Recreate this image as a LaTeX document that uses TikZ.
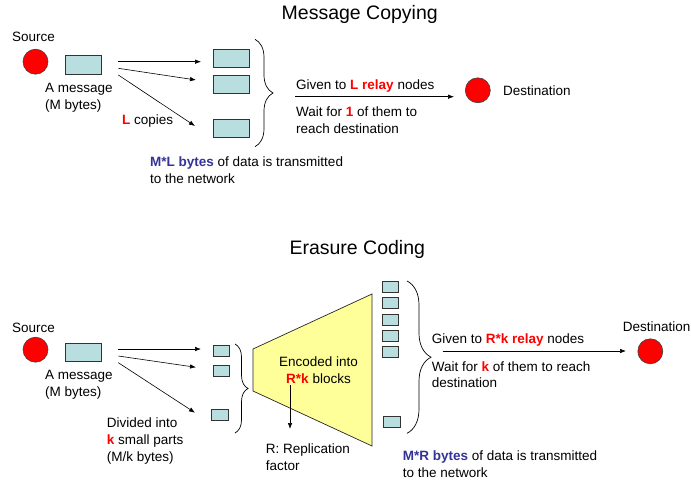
\documentclass[tikz,border=0pt]{standalone}
\usepackage{fontspec}
\setmainfont{Liberation Sans}
\usetikzlibrary{arrows.meta,decorations.pathreplacing}
\definecolor{boxc}{RGB}{184,222,224}
\definecolor{trapc}{RGB}{255,255,153}
\definecolor{bluet}{RGB}{51,51,153}
\newcommand{\rb}[1]{{\color{red}\bfseries #1}}
\newcommand{\bb}[1]{{\color{bluet}\bfseries #1}}
\begin{document}
\begin{tikzpicture}[x=1pt,y=-1pt,
  txt/.style={inner sep=0pt,align=left,font=\fontsize{13.5}{17}\selectfont},
  ttl/.style={inner sep=0pt,font=\fontsize{19.5}{22}\selectfont},
  dot/.style={circle,draw=black!75,line width=0.6pt,fill=red,minimum size=25pt,inner sep=0pt},
  bigbox/.style={draw=black!80,line width=0.7pt,fill=boxc,minimum width=36pt,minimum height=18.5pt,inner sep=0pt},
  smallbox/.style={draw=black!80,line width=0.7pt,fill=boxc,minimum width=16pt,minimum height=11pt,inner sep=0pt},
  arr/.style={line width=0.6pt,-{Latex[length=6pt,width=4.5pt]}},
  brc/.style={line width=0.7pt,decorate,decoration={brace,amplitude=#1}}]
\useasboundingbox (0,0) rectangle (691,486);

% ---------------- Message Copying ----------------
\node[ttl,anchor=base west] (t1) at (281.5,19.3) {Message Copying};
\node[txt,anchor=base] (srcl1) at (33.5,42) {Source};
\node[dot] (src1) at (35.5,61.7) {};
\node[bigbox] (msg1) at (83,65) {};
\node[txt,anchor=base west] (msgl1) at (45,110) {A message\\(M bytes)};
\node[bigbox] (c1) at (231,58.5) {};
\node[bigbox] (c2) at (231,84.5) {};
\node[bigbox] (c3) at (231,128.5) {};
\coordinate (a1s) at (118.3,61.7); \coordinate (a1e) at (201,61.7);
\coordinate (a2s) at (118.3,68.3); \coordinate (a2e) at (196,80);
\coordinate (a3s) at (118.3,75);   \coordinate (a3e) at (195,126);
\draw[arr] (a1s) -- (a1e);
\draw[arr] (a2s) -- (a2e);
\draw[arr] (a3s) -- (a3e);
\node[txt,anchor=base west] (lcop) at (122,125) {\rb{L} copies};
\coordinate (b1t) at (255,39.3); \coordinate (b1b) at (255,146.7);
\draw[brc=18pt] (b1t) -- (b1b);
\node[txt,anchor=base west] (give1) at (296,90) {Given to \rb{L relay} nodes};
\node[txt,anchor=base west] (wait1) at (296,133.5) {Wait for \rb{1} of them to\\reach destination};
\coordinate (r1s) at (295,96.7);
\node[dot] (dst1) at (477.8,90.3) {};
\draw[arr] (r1s) -- (454,96.7) coordinate (r1e);
\node[txt,anchor=base west] (dstl1) at (503,96) {Destination};
\node[txt,anchor=base west] (ml) at (150,184) {\bb{M*L bytes} of data is transmitted\\to the network};

% ---------------- Erasure Coding ----------------
\node[ttl,anchor=base west] (t2) at (289.3,255) {Erasure Coding};
\node[txt,anchor=base] (srcl2) at (33.5,333) {Source};
\node[dot] (src2) at (35.5,349.7) {};
\node[bigbox] (msg2) at (83,352.5) {};
\node[txt,anchor=base west] (msgl2) at (45,396) {A message\\(M bytes)};
\node[smallbox] (p1) at (221,350.5) {};
\node[smallbox] (p2) at (221,370.5) {};
\node[smallbox,minimum width=17pt] (p3) at (219.5,415) {};
\coordinate (e1s) at (118.3,349);   \coordinate (e1e) at (201,349);
\coordinate (e2s) at (118.3,356);   \coordinate (e2e) at (196,367.3);
\coordinate (e3s) at (118.3,362.7); \coordinate (e3e) at (195,412.7);
\draw[arr] (e1s) -- (e1e);
\draw[arr] (e2s) -- (e2e);
\draw[arr] (e3s) -- (e3e);
\node[txt,anchor=base west] (div) at (106.7,461) {Divided into\\\rb{k} small parts\\(M/k bytes)};
\coordinate (b2t) at (235,344); \coordinate (b2b) at (235,433);
\draw[brc=13pt] (b2t) -- (b2b);
% trapezoid encoder
\coordinate (tz1) at (253,349); \coordinate (tz2) at (372,294);
\coordinate (tz3) at (372,446); \coordinate (tz4) at (253,391);
\draw[fill=trapc,draw=black!85,line width=0.7pt] (tz1) -- (tz2) -- (tz3) -- (tz4) -- cycle;
\node[txt,anchor=base,align=center] (enc) at (318.5,383) {Encoded into\\\rb{R*k} blocks};
\coordinate (rs) at (290,385); \coordinate (re) at (290,429);
\draw[arr] (rs) -- (re);
\node[txt,anchor=base west] (repl) at (265.7,470) {R: Replication\\factor};
% encoded blocks
\node[smallbox] (q1) at (390,286.5) {};
\node[smallbox] (q2) at (390,303) {};
\node[smallbox] (q3) at (390,319.5) {};
\node[smallbox] (q4) at (390,336) {};
\node[smallbox] (q5) at (390,351.5) {};
\node[smallbox,minimum width=17pt] (q6) at (391.5,421.5) {};
\coordinate (b3t) at (407,281); \coordinate (b3b) at (407,433.3);
\draw[brc=24pt] (b3t) -- (b3b);
\node[txt,anchor=base west] (give2) at (431.7,344) {Given to \rb{R*k relay} nodes};
\node[txt,anchor=base west] (wait2) at (431.7,388) {Wait for \rb{k} of them to reach\\destination};
\coordinate (r2s) at (442.7,351);
\node[dot] (dst2) at (650.3,351.3) {};
\draw[arr] (r2s) -- (626,351) coordinate (r2e);
\node[txt,anchor=base west] (dstl2) at (622.7,332) {Destination};
\node[txt,anchor=base west] (mr) at (402.7,477) {\bb{M*R bytes} of data is transmitted\\to the network};
\end{tikzpicture}
\end{document}
